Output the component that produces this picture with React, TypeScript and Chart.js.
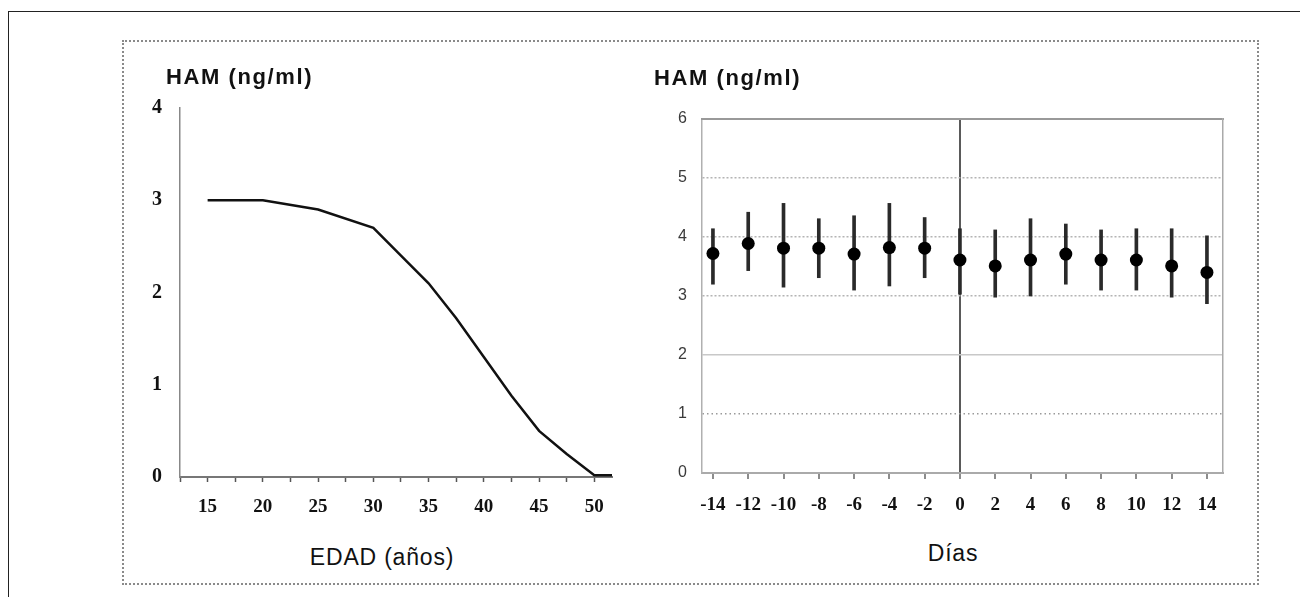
import React, { useEffect, useRef } from 'react';
import { Chart, registerables } from 'chart.js';

Chart.register(...registerables);

// ---- Left panel: HAM vs age ----
const AGE_TICKS = [12.5, 15, 17.5, 20, 22.5, 25, 27.5, 30, 32.5, 35, 37.5, 40, 42.5, 45, 47.5, 50];
const AGE_LABELED = [15, 20, 25, 30, 35, 40, 45, 50];
const AGE_X = [15, 20, 25, 30, 32.5, 35, 37.5, 40, 42.5, 45, 47.5, 50, 51.6];
const HAM_BY_AGE = [3.0, 3.0, 2.9, 2.7, 2.4, 2.1, 1.72, 1.3, 0.88, 0.5, 0.25, 0.02, 0.02];
const AGE_Y_TICKS = [0, 1, 2, 3, 4];

// ---- Right panel: HAM vs cycle day ----
const DAYS = [-14, -12, -10, -8, -6, -4, -2, 0, 2, 4, 6, 8, 10, 12, 14];
const HAM_MEAN = [3.72, 3.89, 3.81, 3.81, 3.71, 3.82, 3.81, 3.61, 3.51, 3.61, 3.71, 3.61, 3.61, 3.51, 3.4];
const HAM_HIGH = [4.14, 4.42, 4.57, 4.31, 4.36, 4.57, 4.33, 4.14, 4.12, 4.31, 4.22, 4.12, 4.14, 4.14, 4.02];
const HAM_LOW = [3.2, 3.43, 3.15, 3.31, 3.1, 3.17, 3.31, 3.03, 2.98, 3.0, 3.2, 3.1, 3.1, 2.98, 2.87];
const DAY_Y_TICKS = [0, 1, 2, 3, 4, 5, 6];

const SERIF = '"Liberation Serif", "Times New Roman", serif';
const SANS = '"Liberation Sans", Arial, sans-serif';

export default function App() {
  const leftRef = useRef<HTMLCanvasElement | null>(null);
  const rightRef = useRef<HTMLCanvasElement | null>(null);

  useEffect(() => {
    const left = new Chart(leftRef.current as HTMLCanvasElement, {
      type: 'line',
      data: {
        datasets: [
          {
            data: AGE_X.map((x, i) => ({ x, y: HAM_BY_AGE[i] })),
            borderColor: '#111',
            borderWidth: 2.5,
            pointRadius: 0,
            fill: false,
            tension: 0,
          },
        ],
      },
      options: {
        animation: false,
        responsive: false,
        maintainAspectRatio: false,
        layout: { padding: { top: 5, right: 18, left: 0, bottom: 0 } },
        plugins: { legend: { display: false }, tooltip: { enabled: false }, title: { display: false } },
        scales: {
          x: {
            type: 'linear',
            min: 12.5,
            max: 51.6,
            afterBuildTicks: (s: any) => {
              s.ticks = AGE_TICKS.map((v) => ({ value: v }));
            },
            afterFit: (s: any) => {
              s.height = 55;
            },
            grid: { display: true, drawOnChartArea: false, drawTicks: true, tickLength: 5, tickColor: '#555', tickWidth: 1.5 },
            border: { display: true, color: '#777', width: 2 },
            ticks: {
              autoSkip: false,
              maxRotation: 0,
              padding: 14,
              color: '#111',
              font: { family: SERIF, size: 19, weight: 'bold' },
              callback: (v: any) => (AGE_LABELED.includes(Number(v)) ? String(v) : ''),
            },
          },
          y: {
            type: 'linear',
            min: 0,
            max: 4,
            afterBuildTicks: (s: any) => {
              s.ticks = AGE_Y_TICKS.map((v) => ({ value: v }));
            },
            afterFit: (s: any) => {
              s.width = 60;
            },
            grid: { display: true, drawOnChartArea: false, drawTicks: false },
            border: { display: true, color: '#888', width: 1.5 },
            ticks: { padding: 18, color: '#111', font: { family: SERIF, size: 20, weight: 'bold' } },
          },
        },
      } as any,
    });

    const gridColor = (c: any) => {
      const v = c.tick ? c.tick.value : null;
      if (v === 1) return '#9a9a9a';
      if (v === 2) return '#c8c8c8';
      if (v === 3 || v === 4 || v === 5) return '#b4b4b4';
      return 'rgba(0,0,0,0)';
    };
    const gridDash = (c: any) => {
      const v = c.tick ? c.tick.value : null;
      if (v === 1) return [1.5, 3];
      if (v === 3 || v === 4 || v === 5) return [2, 2];
      return [];
    };

    const right = new Chart(rightRef.current as HTMLCanvasElement, {
      type: 'bar',
      data: {
        datasets: [
          {
            type: 'scatter',
            data: DAYS.map((d, i) => ({ x: d, y: HAM_MEAN[i] })),
            pointRadius: 6.5,
            pointBackgroundColor: '#000',
            pointBorderColor: '#000',
            pointBorderWidth: 0,
            order: 0,
          },
          {
            type: 'bar',
            data: DAYS.map((d, i) => ({ x: d, y: [HAM_LOW[i], HAM_HIGH[i]] })),
            backgroundColor: '#2a2a2a',
            borderWidth: 0,
            barThickness: 3,
            grouped: false,
            order: 1,
          },
        ],
      } as any,
      options: {
        animation: false,
        responsive: false,
        maintainAspectRatio: false,
        layout: { padding: { top: 28, right: 17, left: 0, bottom: 0 } },
        plugins: { legend: { display: false }, tooltip: { enabled: false }, title: { display: false } },
        scales: {
          x: {
            type: 'linear',
            min: -14.62,
            max: 14.91,
            offset: false,
            afterBuildTicks: (s: any) => {
              s.ticks = DAYS.map((v) => ({ value: v }));
            },
            afterFit: (s: any) => {
              s.height = 58;
            },
            grid: {
              display: true,
              offset: false,
              drawOnChartArea: true,
              drawTicks: true,
              color: (c: any) => (c.tick && c.tick.value === 0 ? '#5a5a5a' : 'rgba(0,0,0,0)'),
              lineWidth: 2,
              tickLength: 6,
              tickColor: '#666',
              tickWidth: 1.5,
            },
            border: { display: true, color: '#aaa', width: 2 },
            ticks: {
              autoSkip: false,
              maxRotation: 0,
              padding: 15,
              color: '#111',
              font: { family: SERIF, size: 19, weight: 'bold' },
            },
          },
          y: {
            type: 'linear',
            min: 0,
            max: 6,
            afterBuildTicks: (s: any) => {
              s.ticks = DAY_Y_TICKS.map((v) => ({ value: v }));
            },
            afterFit: (s: any) => {
              s.width = 72;
            },
            grid: { display: true, drawTicks: false, color: gridColor, lineWidth: 1.5 },
            border: { display: true, color: '#b0b0b0', width: 1.5, dash: gridDash },
            ticks: { padding: 15, color: '#3a3a3a', font: { family: SANS, size: 16 } },
          },
          x2: {
            type: 'linear',
            position: 'top',
            min: -14.62,
            max: 14.91,
            afterFit: (s: any) => {
              s.height = 0;
            },
            grid: { display: false, drawTicks: false },
            ticks: { display: false },
            border: { display: true, color: '#999', width: 2 },
          },
          y2: {
            type: 'linear',
            position: 'right',
            min: 0,
            max: 6,
            afterFit: (s: any) => {
              s.width = 0;
            },
            grid: { display: false, drawTicks: false },
            ticks: { display: false },
            border: { display: true, color: '#aaa', width: 1.5 },
          },
        },
      } as any,
    });

    return () => {
      left.destroy();
      right.destroy();
    };
  }, []);

  const titleStyle: React.CSSProperties = {
    position: 'absolute',
    fontFamily: SANS,
    fontSize: 23,
    lineHeight: '24px',
    letterSpacing: '0.8px',
    color: '#111',
    whiteSpace: 'nowrap',
  };
  const yTitleStyle: React.CSSProperties = {
    ...titleStyle,
    fontSize: 22,
    fontWeight: 'bold',
    letterSpacing: '1.6px',
  };

  return (
    <div
      style={{
        position: 'fixed',
        left: 0,
        top: 0,
        width: 1300,
        height: 597,
        overflow: 'hidden',
        background: '#fff',
      }}
    >
      <div
        style={{
          position: 'absolute',
          left: 8,
          top: 11,
          width: 1400,
          height: 700,
          borderLeft: '1.5px solid #222',
          borderTop: '1.5px solid #222',
        }}
      />
      <div
        style={{
          position: 'absolute',
          left: 122,
          top: 40,
          width: 1137,
          height: 545,
          border: '2px dotted #8a8a8a',
          boxSizing: 'border-box',
        }}
      />
      <canvas
        ref={leftRef}
        width={510}
        height={454}
        style={{ position: 'absolute', left: 120, top: 78, width: 510, height: 454, display: 'block' }}
      />
      <canvas
        ref={rightRef}
        width={610}
        height={440}
        style={{ position: 'absolute', left: 630, top: 91, width: 610, height: 440, display: 'block' }}
      />
      <div style={{ ...yTitleStyle, left: 166, top: 65 }}>HAM (ng/ml)</div>
      <div style={{ ...yTitleStyle, left: 654, top: 66 }}>HAM (ng/ml)</div>
      <div style={{ ...titleStyle, left: 382, top: 545, transform: 'translateX(-50%)' }}>EDAD (años)</div>
      <div style={{ ...titleStyle, left: 953, top: 541, transform: 'translateX(-50%)' }}>Días</div>
    </div>
  );
}
